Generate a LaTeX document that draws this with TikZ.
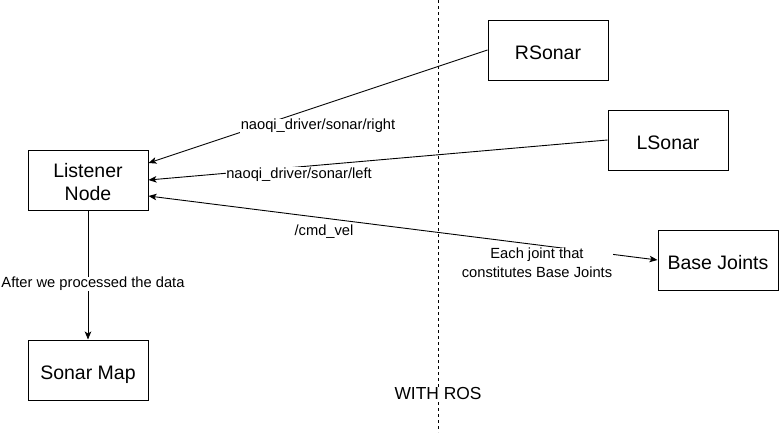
\documentclass[tikz,border=0pt]{standalone}
\usepackage{fontspec}
\setmainfont{Liberation Sans}
\usetikzlibrary{arrows.meta}

\begin{document}
\begin{tikzpicture}[x=1pt,y=-1pt,>={Stealth[length=8pt,width=6.5pt,inset=2pt]},
  box/.style={draw,line width=1pt,minimum width=120pt,minimum height=60pt,inner sep=0pt,align=center,font=\fontsize{19.5}{23}\selectfont},
  onebox/.style={box,text height=19pt,text depth=0pt},
  lbl/.style={fill=white,inner sep=0.5pt,align=center,font=\fontsize{14.7}{19}\selectfont},
  flow/.style={line width=0.9pt}]
\useasboundingbox (0,0) rectangle (779,432);
% ros border
\coordinate (rostop) at (438,0);
\coordinate (rosbot) at (438,432);
\draw[line width=0.9pt,dash pattern=on 3pt off 3pt] (rostop)--(rosbot);
\node[lbl,font=\fontsize{17.4}{20}\selectfont] (withros) at (438,394) {WITH ROS};
% boxes
\node[box] (listener) at (88,180) {\rule{0pt}{19pt}Listener\\Node};
\node[onebox] (sonarmap) at (88,370) {Sonar Map};
\node[onebox] (rsonar) at (548,50) {RSonar};
\node[onebox] (lsonar) at (668,140) {LSonar};
\node[onebox] (basejoints) at (718,260) {Base Joints};
% sonar topics
\draw[flow,->] (rsonar.west)--([yshift=17pt]listener.east);
\node[lbl] (rtopic) at (318,126) {naoqi\_driver/sonar/right};
\draw[flow,->] (lsonar.west)--(listener.east);
\node[lbl] (ltopic) at (299,174.5) {naoqi\_driver/sonar/left};
% cmd vel
\draw[flow,<->] ([yshift=-16pt]listener.east)--(basejoints.west);
\node[lbl] (cmdvel) at (324,232) {/cmd\_vel};
\node[lbl] (joints) at (537,263) {Each joint that\\constitutes Base Joints};
% sonar map
\draw[flow,->] (listener.south)--(sonarmap.north);
\node[lbl] (processed) at (93,284) {After we processed the data};
\end{tikzpicture}
\end{document}
